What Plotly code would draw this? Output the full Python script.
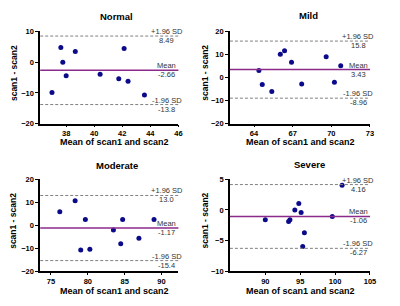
import plotly.graph_objects as go

# ---- data ----
panels = ["Normal", "Mild", "Moderate", "Severe"]

normal_x = [36.99, 37.62, 37.76, 38.0, 38.65, 40.42, 41.75, 42.13, 42.41, 43.58]
normal_y = [-9.9, 4.8, 0.0, -4.4, 3.5, -3.9, -5.4, 4.4, -6.2, -10.7]

mild_x = [64.38, 64.64, 65.38, 66.04, 66.37, 66.91, 67.7, 69.6, 70.24, 70.73]
mild_y = [3.0, -3.0, -6.1, 10.1, 11.6, 6.6, -2.8, 9.0, -2.1, 5.1]

moderate_x = [76.2, 78.28, 79.67, 79.04, 80.28, 83.48, 84.73, 84.47, 86.94, 88.99]
moderate_y = [5.9, 10.7, 2.5, -10.8, -10.4, -2.0, 2.5, -8.0, -5.6, 2.5]

severe_x = [90.0, 93.34, 93.53, 94.23, 94.8, 95.13, 95.36, 95.6, 99.6, 101.0]
severe_y = [-1.6, -1.9, -1.6, 0.0, 1.05, -0.4, -5.95, -3.7, -1.05, 4.05]

mean_vals = [-2.66, 3.43, -1.17, -1.06]
upper_vals = [8.49, 15.8, 13.0, 4.16]
lower_vals = [-13.8, -8.96, -15.4, -6.27]
mean_labels = ["-2.66", "3.43", "-1.17", "-1.06"]
upper_labels = ["8.49", "15.8", "13.0", "4.16"]
lower_labels = ["-13.8", "-8.96", "-15.4", "-6.27"]

x_ranges = [[36.15, 46], [62.13, 73], [73.54, 92.3], [84.93, 105]]
x_ticks = [[38, 40, 42, 44, 46], [64, 67, 70, 73], [75, 80, 85, 90], [90, 95, 100, 105]]
y_ranges = [[-20, 10], [-20, 20], [-20, 20], [-10, 5]]
y_ticks = [[-20, -10, 0, 10], [-20, -10, 0, 10, 20], [-20, -10, 0, 10, 20], [-10, -5, 0, 5]]

xs = [normal_x, mild_x, moderate_x, severe_x]
ys = [normal_y, mild_y, moderate_y, severe_y]

# ---- layout geometry (page pixels; page body has an 8px margin) ----
W, H = 400, 306
OFF = 8
def px(v):
    return (v - OFF) / W
def py(v):
    return 1 - (v - OFF) / H

col_px = [(40.7, 181.0), (233.3, 375.5)]
row_px = [(28.0, 123.0), (180.5, 275.0)]
title_px = [(118, 12.5), (313.5, 12.0), (119, 166), (314.5, 165.5)]
xtitle_px = [(116, 142), (304.5, 142), (116, 295), (304.5, 295)]

FONT = "Liberation Sans, Arial, sans-serif"
MEAN_C = "#8B2A8B"
DOT_C = "#0B0B8A"
DASH_C = "#808080"

fig = go.Figure()
layout = dict(width=W, height=H, margin=dict(l=0, r=0, t=0, b=0),
              paper_bgcolor="white", plot_bgcolor="white", showlegend=False,
              font=dict(family=FONT, color="black"))
annotations = []
shapes = []

for i, name in enumerate(panels):
    r, c = divmod(i, 2)
    xa = "xaxis" if i == 0 else f"xaxis{i+1}"
    ya = "yaxis" if i == 0 else f"yaxis{i+1}"
    xr = "x" if i == 0 else f"x{i+1}"
    yr = "y" if i == 0 else f"y{i+1}"
    x0, x1 = col_px[c]
    yt, yb = row_px[r]
    layout[xa] = dict(domain=[px(x0), px(x1)], range=x_ranges[i], anchor=yr,
                      tickvals=x_ticks[i], ticks="outside", ticklen=2, tickwidth=1,
                      tickcolor="black", showline=True, linecolor="black", linewidth=1.5,
                      showgrid=False, zeroline=False,
                      tickfont=dict(size=7.5, family=FONT, weight="bold"))
    layout[ya] = dict(domain=[py(yb), py(yt)], range=y_ranges[i], anchor=xr,
                      tickvals=y_ticks[i], ticks="outside", ticklen=3, tickwidth=1,
                      tickcolor="black", showline=True, linecolor="black", linewidth=1.5,
                      showgrid=False, zeroline=False,
                      tickfont=dict(size=7.5, family=FONT, weight="bold"))
    fig.add_trace(go.Scatter(x=xs[i], y=ys[i], mode="markers", xaxis=xr, yaxis=yr,
                             marker=dict(size=5, color=DOT_C), cliponaxis=False))
    # horizontal lines
    shapes.append(dict(type="line", xref=f"{xr} domain", yref=yr, x0=0, x1=1,
                       y0=mean_vals[i], y1=mean_vals[i], line=dict(color=MEAN_C, width=1.5)))
    for v in (upper_vals[i], lower_vals[i]):
        shapes.append(dict(type="line", xref=f"{xr} domain", yref=yr, x0=0, x1=1,
                           y0=v, y1=v, line=dict(color=DASH_C, width=1, dash="3px,2px")))
    # labels
    lx = px(x1 - 12)
    af = dict(size=7.5, family=FONT, color="#333333")
    pairs = [("+1.96 SD", upper_labels[i], upper_vals[i]),
             ("Mean", mean_labels[i], mean_vals[i]),
             ("-1.96 SD", lower_labels[i], lower_vals[i])]
    for top, bot, v in pairs:
        annotations.append(dict(text=top, xref="paper", yref=yr, x=lx, y=v,
                                xanchor="center", yanchor="bottom", yshift=-2,
                                showarrow=False, font=af))
        annotations.append(dict(text=bot, xref="paper", yref=yr, x=lx, y=v,
                                xanchor="center", yanchor="top", yshift=2,
                                showarrow=False, font=af))
    # titles
    tx, ty = title_px[i]
    annotations.append(dict(text=name, xref="paper", yref="paper", x=px(tx), y=py(ty),
                            xanchor="center", yanchor="middle", showarrow=False,
                            font=dict(size=9.5, family=FONT, weight="bold")))
    gx, gy = xtitle_px[i]
    annotations.append(dict(text="Mean of scan1 and scan2", xref="paper", yref="paper",
                            x=px(gx), y=py(gy), xanchor="center", yanchor="middle",
                            showarrow=False, font=dict(size=9, family=FONT, weight="bold")))
    ytx = 13.5 if c == 0 else 208
    annotations.append(dict(text="scan1 - scan2", xref="paper", yref="paper",
                            x=px(ytx), y=py((yt + yb) / 2 - 5), xanchor="center",
                            yanchor="middle", textangle=-90, showarrow=False,
                            font=dict(size=8.5, family=FONT, weight="bold")))

layout["annotations"] = annotations
layout["shapes"] = shapes
fig.update_layout(**layout)
fig.write_html("out.html")
